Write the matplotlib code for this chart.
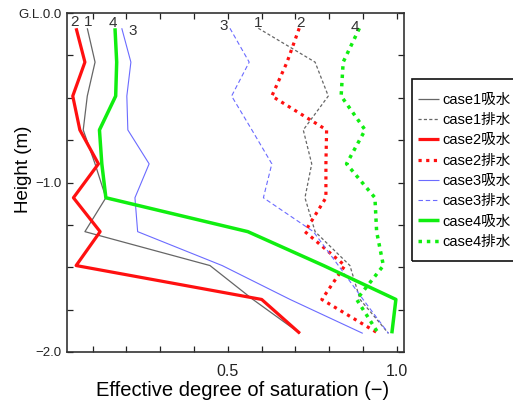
import matplotlib
matplotlib.use("Agg")
import matplotlib.pyplot as plt
from matplotlib.patches import Rectangle
from matplotlib.ticker import FixedLocator, FixedFormatter, MultipleLocator

plt.rcParams['font.family'] = ['Liberation Sans', 'Noto Sans CJK JP', 'DejaVu Sans']

# Measurement depths (m)
depth = [-0.09, -0.29, -0.49, -0.69, -0.89, -1.09, -1.29, -1.49, -1.69, -1.89]

# Effective degree of saturation at each depth
case1_abs = [0.084, 0.107, 0.084, 0.072, 0.107, 0.139, 0.077, 0.447, 0.574, 0.713]
case1_dr = [0.590, 0.758, 0.797, 0.723, 0.748, 0.728, 0.758, 0.861, 0.891, 0.975]
case2_abs = [0.051, 0.077, 0.041, 0.062, 0.117, 0.043, 0.122, 0.051, 0.600, 0.713]
case2_dr = [0.711, 0.675, 0.630, 0.792, 0.790, 0.790, 0.728, 0.846, 0.778, 0.945]
case3_abs = [0.186, 0.213, 0.201, 0.204, 0.267, 0.225, 0.233, 0.483, 0.684, 0.899]
case3_dr = [0.506, 0.563, 0.511, 0.571, 0.630, 0.605, 0.753, 0.827, 0.900, 0.975]
case4_abs = [0.166, 0.171, 0.168, 0.120, 0.127, 0.139, 0.559, 0.783, 0.997, 0.985]
case4_dr = [0.889, 0.841, 0.835, 0.906, 0.851, 0.935, 0.940, 0.960, 0.881, 0.945]

legend_labels = ['case1吸水', 'case1排水', 'case2吸水', 'case2排水',
                 'case3吸水', 'case3排水', 'case4吸水', 'case4排水']

# Case number tags near the top of each profile: (text, x, y)
tags = [('2', 0.046, -0.051), ('1', 0.087, -0.051), ('4', 0.161, -0.057),
        ('3', 0.218, -0.104), ('3', 0.488, -0.077), ('1', 0.590, -0.057),
        ('2', 0.715, -0.061), ('4', 0.876, -0.081)]

W, H = 513, 403
fig = plt.figure(figsize=(W / 100, H / 100), dpi=100)
ax = fig.add_axes([67 / W, 1 - 352 / H, (404 - 67) / W, (352 - 13) / H])

series = [
    (case1_abs, dict(color='#666666', lw=0.9, ls='-')),
    (case1_dr, dict(color='#666666', lw=0.9, ls=(0, (2.5, 1.8)))),
    (case2_abs, dict(color='#ff1010', lw=2.3, ls='-')),
    (case2_dr, dict(color='#ff1010', lw=2.3, ls=(0, (1, 1.4)))),
    (case3_abs, dict(color='#6b6bff', lw=0.8, ls='-')),
    (case3_dr, dict(color='#6b6bff', lw=0.8, ls=(0, (4, 2.5)))),
    (case4_abs, dict(color='#10ee10', lw=2.5, ls='-')),
    (case4_dr, dict(color='#10ee10', lw=2.5, ls=(0, (1, 1.4)))),
]
handles = []
for (vals, style), lab in zip(series, legend_labels):
    h, = ax.plot(vals, depth, label=lab, solid_capstyle='butt', **style)
    handles.append(h)

for t, x, y in tags:
    ax.text(x, y, t, fontsize=11, color='#333333', ha='center', va='center')

ax.set_xlim(0.024, 1.021)
ax.set_ylim(-2.0, 0.0)

ax.xaxis.set_major_locator(FixedLocator([0.1 * i for i in range(1, 11)]))
ax.xaxis.set_major_formatter(FixedFormatter(['', '', '', '', '0.5', '', '', '', '', '1.0']))
ax.yaxis.set_major_locator(FixedLocator([-2.0, -1.0, 0.0]))
ax.yaxis.set_major_formatter(FixedFormatter(['\u22122.0', '\u22121.0', 'G.L.0.0']))
ax.yaxis.set_minor_locator(MultipleLocator(0.25))

ax.tick_params(axis='x', which='both', direction='in', top=True, length=4, width=0.9,
               labelsize=11.5, pad=9, colors='#222222')
ax.tick_params(axis='y', which='both', direction='in', right=True, length=4, width=0.9,
               labelsize=9.5, pad=4, colors='#222222')
for s in ax.spines.values():
    s.set_linewidth(1.2)
    s.set_color('#333333')

ax.set_xlabel('Effective degree of saturation (\u2212)', fontsize=14.5)
ax.xaxis.set_label_coords(0.521, -0.086)
ax.set_ylabel('Height (m)', fontsize=13.5)
ax.yaxis.set_label_coords(-0.104, 0.54)

# Legend entries without their own frame; the box is drawn separately
leg = fig.legend(handles=handles, loc='upper left',
                 bbox_to_anchor=(412 / W, 1 - 87 / H), borderaxespad=0,
                 fontsize=10.5, handlelength=1.45, handletextpad=0.25,
                 labelspacing=0.43, borderpad=0.4, frameon=False)
fig.patches.append(Rectangle((412 / W, 1 - 261 / H), (530 - 412) / W, (261 - 79) / H,
                             transform=fig.transFigure, fill=False,
                             lw=1.2, ec='#111111'))

fig.savefig('out.png', dpi=100)
